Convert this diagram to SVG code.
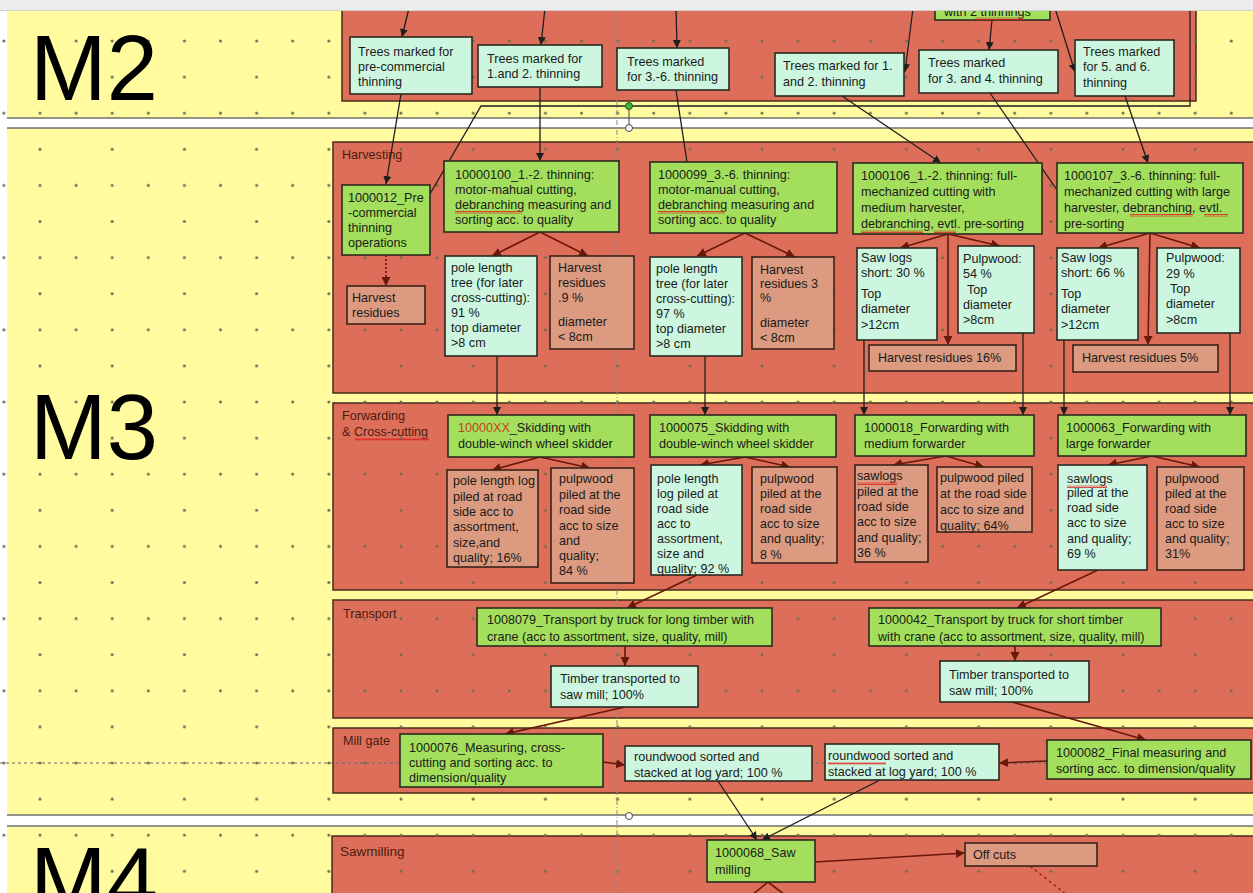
<svg xmlns="http://www.w3.org/2000/svg" width="1253" height="893" viewBox="0 0 1253 893">
<defs>
<style>
.t{font-family:"Liberation Sans",Arial,sans-serif;font-size:12.6px;fill:#1a1a1a}
.lbl{font-family:"Liberation Sans",Arial,sans-serif;font-size:12.6px;fill:#4a1c10}
.big{font-family:"Liberation Sans",Arial,sans-serif;font-size:92px;fill:#000}
.lane{fill:#dd6f5a;stroke:#4a2a1a;stroke-width:1.5}
.g{fill:#a3df5c;stroke:#2b2a1e;stroke-width:1.6}
.m{fill:#ccf6df;stroke:#2b2a1e;stroke-width:1.6}
.s{fill:#dc9a80;stroke:#3a2218;stroke-width:1.6}
.c{stroke:#1e1e1e;stroke-width:1.3;fill:none;marker-end:url(#ab)}
.cn{stroke:#1e1e1e;stroke-width:1.3;fill:none}
.cr{stroke:#6a170c;stroke-width:1.6;fill:none;marker-end:url(#ar)}
.sep{stroke:#6f6f6f;stroke-width:1.6}
</style>
<marker id="ab" markerUnits="userSpaceOnUse" markerWidth="9" markerHeight="9" refX="8" refY="4" orient="auto"><path d="M0,0 L8,4 L0,8 z" fill="#1e1e1e"/></marker>
<marker id="ar" markerUnits="userSpaceOnUse" markerWidth="10" markerHeight="10" refX="9" refY="4.5" orient="auto"><path d="M0,0 L9,4.5 L0,9 z" fill="#6a170c"/></marker>
<pattern id="dots" patternUnits="userSpaceOnUse" x="38" y="39" width="72.2" height="72.2"><circle cx="2" cy="2" r="1.5" fill="#6f6c50"/><circle cx="38.1" cy="2" r="1.5" fill="#6f6c50"/><circle cx="2" cy="38.1" r="1.5" fill="#6f6c50"/></pattern>
<pattern id="sq" patternUnits="userSpaceOnUse" width="4" height="3"><path d="M0,2.5 L1,0.5 L2,2.5 L3,0.5 L4,2.5" stroke="#e02020" stroke-width="0.8" fill="none"/></pattern>
</defs>

<rect x="0" y="0" width="1253" height="893" fill="#fffb9e"/>
<rect x="0" y="0" width="7" height="893" fill="#ffffff"/>

<g id="lanes">
<rect class="lane" x="342" y="-4" width="854" height="105"/>
<rect class="lane" x="333" y="142" width="930" height="251"/>
<rect class="lane" x="333" y="403" width="930" height="187"/>
<rect class="lane" x="333" y="600" width="930" height="118"/>
<rect class="lane" x="333" y="728" width="930" height="65"/>
<rect class="lane" x="332" y="836" width="930" height="70"/>
<text class="lbl" x="342" y="159">Harvesting</text>
<text class="lbl" x="342" y="420">Forwarding</text>
<text class="lbl" x="342" y="436">&amp; Cross-cutting</text>
<rect x="355" y="438" width="74" height="3" fill="url(#sq)"/>
<text class="lbl" x="343" y="618">Transport</text>
<text class="lbl" x="343" y="745">Mill gate</text>
<text class="lbl" x="340" y="856" style="font-size:13.5px">Sawmilling</text>
</g>

<rect x="0" y="0" width="1253" height="893" fill="url(#dots)"/>

<g id="separators">
<rect x="7" y="118" width="1246" height="10" fill="#ffffff"/>
<line class="sep" x1="7" y1="118" x2="1253" y2="118"/>
<line class="sep" x1="7" y1="128" x2="1253" y2="128"/>
<rect x="7" y="815" width="1246" height="11" fill="#ffffff"/>
<line class="sep" x1="7" y1="815" x2="1253" y2="815"/>
<line class="sep" x1="7" y1="826" x2="1253" y2="826"/>
<line x1="0" y1="763" x2="1253" y2="763" stroke="#6a6a6a" stroke-width="1" stroke-dasharray="3,3"/>
<line x1="617" y1="0" x2="617" y2="893" stroke="#8a8a8a" stroke-width="1" stroke-dasharray="5,2,1,2"/>
</g>

<text class="big" x="30" y="100">M2</text>
<text class="big" x="30" y="459">M3</text>
<text class="big" x="30" y="912">M4</text>

<g id="connectors">
<line class="c" x1="409" y1="8" x2="402" y2="37"/>
<line class="c" x1="545" y1="8" x2="541" y2="45"/>
<line class="c" x1="676" y1="8" x2="677" y2="48"/>
<line class="c" x1="913" y1="8" x2="905" y2="72"/>
<line class="c" x1="992" y1="20" x2="989" y2="50"/>
<line class="c" x1="1055" y1="8" x2="1075" y2="72"/>
<polyline class="cn" points="1190,8 1190,106 481,106 430,194"/>
<line class="c" x1="401" y1="94" x2="386" y2="184"/>
<line class="c" x1="540" y1="87" x2="540" y2="161"/>
<line class="cn" x1="676" y1="90" x2="687" y2="162"/>
<line class="c" x1="842" y1="96" x2="941" y2="163"/>
<line class="cn" x1="990" y1="93" x2="1057" y2="190"/>
<line class="c" x1="1125" y1="96" x2="1148" y2="163"/>
<line class="cr" x1="386" y1="255" x2="386" y2="286" stroke-dasharray="2,2"/>
<line class="cr" x1="540" y1="232" x2="492" y2="256"/>
<line class="cr" x1="540" y1="232" x2="588" y2="256"/>
<line class="cr" x1="745" y1="233" x2="697" y2="256"/>
<line class="cr" x1="745" y1="233" x2="795" y2="257"/>
<line class="cr" x1="948" y1="234" x2="900" y2="248"/>
<line class="cr" x1="948" y1="234" x2="1000" y2="246"/>
<line class="cr" x1="948" y1="234" x2="948" y2="345"/>
<line class="cr" x1="1150" y1="233" x2="1098" y2="248"/>
<line class="cr" x1="1150" y1="233" x2="1200" y2="248"/>
<line class="cr" x1="1150" y1="233" x2="1148" y2="345"/>
<line class="c" x1="497" y1="356" x2="497" y2="415"/>
<line class="c" x1="705" y1="356" x2="705" y2="415"/>
<line class="c" x1="864" y1="340" x2="864" y2="415"/>
<line class="c" x1="1023" y1="333" x2="1023" y2="415"/>
<line class="c" x1="1064" y1="340" x2="1064" y2="415"/>
<line class="c" x1="1230" y1="333" x2="1230" y2="415"/>
<line class="cr" x1="540" y1="457" x2="492" y2="470"/>
<line class="cr" x1="540" y1="457" x2="590" y2="468"/>
<line class="cr" x1="745" y1="457" x2="700" y2="465"/>
<line class="cr" x1="745" y1="457" x2="790" y2="467"/>
<line class="cr" x1="946" y1="456" x2="893" y2="465"/>
<line class="cr" x1="946" y1="456" x2="984" y2="467"/>
<line class="cr" x1="1152" y1="456" x2="1108" y2="465"/>
<line class="cr" x1="1152" y1="456" x2="1200" y2="467"/>
<line class="cr" x1="697" y1="575" x2="627" y2="608"/>
<line class="cr" x1="1098" y1="570" x2="1017" y2="608"/>
<line class="cr" x1="625" y1="646" x2="625" y2="666"/>
<line class="cr" x1="1015" y1="646" x2="1015" y2="661"/>
<line class="cr" x1="625" y1="707" x2="505" y2="734"/>
<line class="cr" x1="1012" y1="702" x2="1146" y2="740"/>
<line class="cr" x1="603" y1="762" x2="625" y2="765"/>
<line class="cr" x1="1047" y1="761" x2="999" y2="763"/>
<line class="c" x1="718" y1="781" x2="757" y2="840"/>
<line class="c" x1="880" y1="780" x2="762" y2="840"/>
<line class="cr" x1="815" y1="862" x2="965" y2="853"/>
<line x1="1030" y1="866" x2="1067" y2="895" stroke="#b0201a" stroke-width="1.5" stroke-dasharray="3,3"/>
<line class="cr" x1="768" y1="882" x2="752" y2="895" style="marker-end:none"/>
<line class="cr" x1="768" y1="882" x2="785" y2="895" style="marker-end:none"/>
</g>

<g id="n-with2">
<rect class="g" x="935" y="-12" width="115" height="32"/>
<text class="t" x="944" y="16">with 2 thinnings</text>
<rect x="975" y="17" width="48" height="3" fill="url(#sq)"/>
</g>
<g id="n-tm-pc">
<rect class="m" x="350" y="37" width="122" height="57"/>
<text class="t" x="358" y="56">Trees marked for</text>
<text class="t" x="358" y="71">pre-commercial</text>
<text class="t" x="358" y="86">thinning</text>
</g>
<g id="n-tm-12a">
<rect class="m" x="478" y="45" width="124" height="42"/>
<text class="t" x="487" y="63">Trees marked for</text>
<text class="t" x="487" y="78">1.and 2. thinning</text>
</g>
<g id="n-tm-36">
<rect class="m" x="617" y="48" width="112" height="42"/>
<text class="t" x="627" y="66">Trees marked</text>
<text class="t" x="627" y="81">for 3.-6. thinning</text>
</g>
<g id="n-tm-12b">
<rect class="m" x="775" y="53" width="129" height="43"/>
<text class="t" x="783" y="70">Trees marked for 1.</text>
<text class="t" x="783" y="86">and 2. thinning</text>
</g>
<g id="n-tm-34">
<rect class="m" x="919" y="50" width="139" height="43"/>
<text class="t" x="928" y="67">Trees marked</text>
<text class="t" x="928" y="83">for 3. and 4. thinning</text>
</g>
<g id="n-tm-56">
<rect class="m" x="1075" y="40" width="99" height="56"/>
<text class="t" x="1083" y="56">Trees marked</text>
<text class="t" x="1083" y="71">for 5. and 6.</text>
<text class="t" x="1083" y="87">thinning</text>
</g>

<g id="n-1000012">
<rect class="g" x="342" y="185" width="88" height="70"/>
<text class="t" x="348" y="202">1000012_Pre</text>
<text class="t" x="348" y="217">-commercial</text>
<text class="t" x="348" y="232">thinning</text>
<text class="t" x="348" y="247">operations</text>
</g>
<g id="n-hr-pc">
<rect class="s" x="347" y="286" width="78" height="38"/>
<text class="t" x="352" y="302">Harvest</text>
<text class="t" x="352" y="317">residues</text>
</g>
<g id="n-10000100">
<rect class="g" x="444" y="161" width="175" height="71"/>
<text class="t" x="455" y="179">10000100_1.-2. thinning:</text>
<text class="t" x="455" y="194">motor-mahual cutting,</text>
<text class="t" x="455" y="209">debranching measuring and</text>
<rect x="455" y="211" width="67" height="3" fill="url(#sq)"/>
<text class="t" x="455" y="224">sorting acc. to quality</text>
</g>
<g id="n-pole91">
<rect class="m" x="445" y="256" width="92" height="100"/>
<text class="t" x="451" y="272">pole length</text>
<text class="t" x="451" y="287">tree (for later</text>
<text class="t" x="451" y="302">cross-cutting):</text>
<text class="t" x="451" y="317">91 %</text>
<text class="t" x="451" y="332">top diameter</text>
<text class="t" x="451" y="347">&gt;8 cm</text>
</g>
<g id="n-hr9">
<rect class="s" x="550" y="256" width="84" height="93"/>
<text class="t" x="558" y="272">Harvest</text>
<text class="t" x="558" y="287">residues</text>
<text class="t" x="558" y="302">.9 %</text>
<text class="t" x="558" y="326">diameter</text>
<text class="t" x="558" y="341">&lt; 8cm</text>
</g>
<g id="n-1000099">
<rect class="g" x="650" y="162" width="187" height="71"/>
<text class="t" x="658" y="179">1000099_3.-6. thinning:</text>
<text class="t" x="658" y="194">motor-manual cutting,</text>
<text class="t" x="658" y="209">debranching measuring and</text>
<rect x="658" y="211" width="67" height="3" fill="url(#sq)"/>
<text class="t" x="658" y="224">sorting acc. to quality</text>
</g>
<g id="n-pole97">
<rect class="m" x="650" y="257" width="92" height="99"/>
<text class="t" x="656" y="273">pole length</text>
<text class="t" x="656" y="288">tree (for later</text>
<text class="t" x="656" y="303">cross-cutting):</text>
<text class="t" x="656" y="318">97 %</text>
<text class="t" x="656" y="333">top diameter</text>
<text class="t" x="656" y="348">&gt;8 cm</text>
</g>
<g id="n-hr3">
<rect class="s" x="752" y="257" width="82" height="92"/>
<text class="t" x="760" y="274">Harvest</text>
<text class="t" x="760" y="288">residues 3</text>
<text class="t" x="760" y="302">%</text>
<text class="t" x="760" y="327">diameter</text>
<text class="t" x="760" y="342">&lt; 8cm</text>
</g>
<g id="n-1000106">
<rect class="g" x="853" y="163" width="189" height="71"/>
<text class="t" x="861" y="180">1000106_1.-2. thinning: full-</text>
<text class="t" x="861" y="196">mechanized cutting with</text>
<text class="t" x="861" y="212">medium harvester,</text>
<text class="t" x="861" y="228">debranching, evtl. pre-sorting</text>
<rect x="861" y="230" width="62" height="3" fill="url(#sq)"/>
<rect x="934" y="230" width="22" height="3" fill="url(#sq)"/>
</g>
<g id="n-saw30">
<rect class="m" x="857" y="248" width="80" height="92"/>
<text class="t" x="861" y="262">Saw logs</text>
<text class="t" x="861" y="277">short: 30 %</text>
<text class="t" x="861" y="298">Top</text>
<text class="t" x="861" y="313">diameter</text>
<text class="t" x="861" y="329">&gt;12cm</text>
</g>
<g id="n-pulp54">
<rect class="m" x="958" y="246" width="76" height="87"/>
<text class="t" x="963" y="263">Pulpwood:</text>
<text class="t" x="963" y="278">54 %</text>
<text class="t" x="967" y="294">Top</text>
<text class="t" x="963" y="309">diameter</text>
<text class="t" x="963" y="324">&gt;8cm</text>
</g>
<g id="n-hr16">
<rect class="s" x="869" y="345" width="147" height="26"/>
<text class="t" x="878" y="362">Harvest residues 16%</text>
</g>
<g id="n-1000107">
<rect class="g" x="1057" y="163" width="186" height="70"/>
<text class="t" x="1064" y="180">1000107_3.-6. thinning: full-</text>
<text class="t" x="1064" y="196">mechanized cutting with large</text>
<text class="t" x="1064" y="212">harvester, debranching, evtl.</text>
<rect x="1130" y="214" width="63" height="3" fill="url(#sq)"/>
<rect x="1204" y="214" width="24" height="3" fill="url(#sq)"/>
<text class="t" x="1064" y="228">pre-sorting</text>
</g>
<g id="n-saw66">
<rect class="m" x="1057" y="248" width="81" height="92"/>
<text class="t" x="1061" y="262">Saw logs</text>
<text class="t" x="1061" y="277">short: 66 %</text>
<text class="t" x="1061" y="298">Top</text>
<text class="t" x="1061" y="313">diameter</text>
<text class="t" x="1061" y="329">&gt;12cm</text>
</g>
<g id="n-pulp29">
<rect class="m" x="1157" y="248" width="83" height="85"/>
<text class="t" x="1166" y="262">Pulpwood:</text>
<text class="t" x="1166" y="278">29 %</text>
<text class="t" x="1170" y="293">Top</text>
<text class="t" x="1166" y="308">diameter</text>
<text class="t" x="1166" y="324">&gt;8cm</text>
</g>
<g id="n-hr5">
<rect class="s" x="1073" y="345" width="145" height="27"/>
<text class="t" x="1082" y="362">Harvest residues 5%</text>
</g>

<g id="n-10000XX">
<rect class="g" x="448" y="415" width="186" height="42"/>
<text class="t" x="458" y="432"><tspan fill="#c8401c">10000XX</tspan>_Skidding with</text>
<text class="t" x="458" y="448">double-winch wheel skidder</text>
</g>
<g id="n-pole16">
<rect class="s" x="447" y="470" width="91" height="97"/>
<text class="t" x="453" y="485">pole length log</text>
<text class="t" x="453" y="501">piled at road</text>
<text class="t" x="453" y="516">side acc to</text>
<text class="t" x="453" y="531">assortment,</text>
<text class="t" x="453" y="547">size,and</text>
<text class="t" x="453" y="562">quality; 16%</text>
</g>
<g id="n-pulp84">
<rect class="s" x="551" y="468" width="83" height="115"/>
<text class="t" x="559" y="483">pulpwood</text>
<text class="t" x="559" y="499">piled at the</text>
<text class="t" x="559" y="514">road side</text>
<text class="t" x="559" y="530">acc to size</text>
<text class="t" x="559" y="545">and</text>
<text class="t" x="559" y="560">quality;</text>
<text class="t" x="559" y="575">84 %</text>
</g>
<g id="n-1000075">
<rect class="g" x="650" y="415" width="186" height="42"/>
<text class="t" x="659" y="432">1000075_Skidding with</text>
<text class="t" x="659" y="448">double-winch wheel skidder</text>
</g>
<g id="n-pole92">
<rect class="m" x="651" y="465" width="91" height="110"/>
<text class="t" x="657" y="483">pole length</text>
<text class="t" x="657" y="498">log piled at</text>
<text class="t" x="657" y="513">road side</text>
<text class="t" x="657" y="528">acc to</text>
<text class="t" x="657" y="543">assortment,</text>
<text class="t" x="657" y="558">size and</text>
<text class="t" x="657" y="573">quality; 92 %</text>
</g>
<g id="n-pulp8">
<rect class="s" x="752" y="467" width="85" height="96"/>
<text class="t" x="760" y="483">pulpwood</text>
<text class="t" x="760" y="498">piled at the</text>
<text class="t" x="760" y="513">road side</text>
<text class="t" x="760" y="528">acc to size</text>
<text class="t" x="760" y="543">and quality;</text>
<text class="t" x="760" y="559">8 %</text>
</g>
<g id="n-1000018">
<rect class="g" x="855" y="415" width="179" height="41"/>
<text class="t" x="864" y="432">1000018_Forwarding with</text>
<text class="t" x="864" y="448">medium forwarder</text>
</g>
<g id="n-saw36">
<rect class="s" x="855" y="465" width="73" height="97"/>
<text class="t" x="857" y="480">sawlogs</text>
<rect x="857" y="482" width="40" height="3" fill="url(#sq)"/>
<text class="t" x="857" y="496">piled at the</text>
<text class="t" x="857" y="511">road side</text>
<text class="t" x="857" y="526">acc to size</text>
<text class="t" x="857" y="542">and quality;</text>
<text class="t" x="857" y="557">36 %</text>
</g>
<g id="n-pulp64">
<rect class="s" x="937" y="467" width="95" height="65"/>
<text class="t" x="940" y="482">pulpwood piled</text>
<text class="t" x="940" y="498">at the road side</text>
<text class="t" x="940" y="514">acc to size and</text>
<text class="t" x="940" y="530">quality; 64%</text>
</g>
<g id="n-1000063">
<rect class="g" x="1058" y="415" width="188" height="41"/>
<text class="t" x="1066" y="432">1000063_Forwarding with</text>
<text class="t" x="1066" y="448">large forwarder</text>
</g>
<g id="n-saw69">
<rect class="m" x="1058" y="465" width="89" height="105"/>
<text class="t" x="1067" y="483">sawlogs</text>
<rect x="1067" y="485" width="40" height="3" fill="url(#sq)"/>
<text class="t" x="1067" y="497">piled at the</text>
<text class="t" x="1067" y="512">road side</text>
<text class="t" x="1067" y="527">acc to size</text>
<text class="t" x="1067" y="543">and quality;</text>
<text class="t" x="1067" y="558">69 %</text>
</g>
<g id="n-pulp31">
<rect class="s" x="1157" y="467" width="87" height="103"/>
<text class="t" x="1165" y="483">pulpwood</text>
<text class="t" x="1165" y="498">piled at the</text>
<text class="t" x="1165" y="513">road side</text>
<text class="t" x="1165" y="528">acc to size</text>
<text class="t" x="1165" y="543">and quality;</text>
<text class="t" x="1165" y="558">31%</text>
</g>

<g id="n-1008079">
<rect class="g" x="477" y="608" width="295" height="38"/>
<text class="t" x="487" y="624">1008079_Transport by truck for long timber with</text>
<text class="t" x="487" y="641">crane (acc to assortment, size, quality, mill)</text>
</g>
<g id="n-tt1">
<rect class="m" x="551" y="666" width="147" height="41"/>
<text class="t" x="560" y="683">Timber transported to</text>
<text class="t" x="560" y="699">saw mill; 100%</text>
</g>
<g id="n-1000042">
<rect class="g" x="869" y="608" width="292" height="38"/>
<text class="t" x="878" y="624">1000042_Transport by truck for short timber</text>
<text class="t" x="878" y="641">with crane (acc to assortment, size, quality, mill)</text>
</g>
<g id="n-tt2">
<rect class="m" x="940" y="661" width="149" height="41"/>
<text class="t" x="949" y="679">Timber transported to</text>
<text class="t" x="949" y="695">saw mill; 100%</text>
</g>

<g id="n-1000076">
<rect class="g" x="400" y="734" width="203" height="53"/>
<text class="t" x="409" y="752">1000076_Measuring, cross-</text>
<text class="t" x="409" y="767">cutting and sorting acc. to</text>
<text class="t" x="409" y="782">dimension/quality</text>
</g>
<g id="n-rw1">
<rect class="m" x="625" y="746" width="187" height="35"/>
<text class="t" x="634" y="761">roundwood sorted and</text>
<text class="t" x="634" y="777">stacked at log yard; 100 %</text>
</g>
<g id="n-rw2">
<rect class="m" x="825" y="744" width="174" height="36"/>
<text class="t" x="828" y="760">roundwood sorted and</text>
<rect x="828" y="762" width="58" height="3" fill="url(#sq)"/>
<text class="t" x="828" y="776">stacked at log yard; 100 %</text>
</g>
<g id="n-1000082">
<rect class="g" x="1047" y="740" width="204" height="39"/>
<text class="t" x="1056" y="757">1000082_Final measuring and</text>
<text class="t" x="1056" y="773">sorting acc. to dimension/quality</text>
</g>

<g id="n-1000068">
<rect class="g" x="707" y="840" width="108" height="42"/>
<text class="t" x="715" y="857">1000068_Saw</text>
<text class="t" x="715" y="874">milling</text>
</g>
<g id="n-offcuts">
<rect class="s" x="965" y="843" width="132" height="23"/>
<text class="t" x="973" y="859">Off cuts</text>
</g>

<g id="handles">
<line x1="629" y1="106" x2="629" y2="128" stroke="#444" stroke-width="1"/>
<circle cx="629" cy="106" r="3.5" fill="#3cb43c" stroke="#225522" stroke-width="1"/>
<circle cx="629" cy="128" r="3.5" fill="#ffffff" stroke="#444" stroke-width="1"/>
<circle cx="629" cy="816" r="3.5" fill="#ffffff" stroke="#444" stroke-width="1"/>
</g>

<rect x="0" y="0" width="1253" height="10" fill="#ececec"/>
<line x1="0" y1="10.5" x2="1253" y2="10.5" stroke="#d0d0d0" stroke-width="1"/>
</svg>
